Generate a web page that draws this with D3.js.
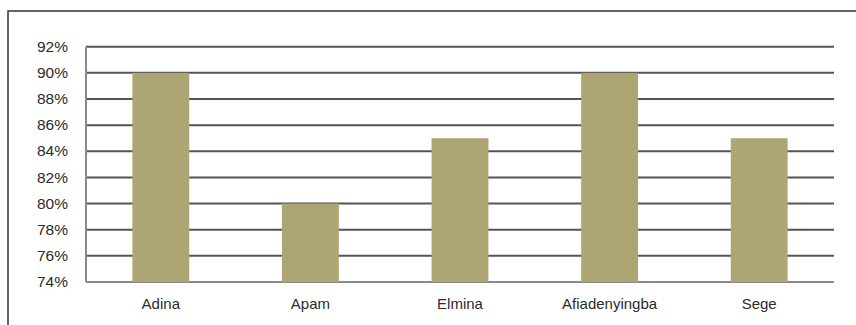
<!DOCTYPE html>
<html lang="en">
<head>
    <meta charset="UTF-8">
    <script src="https://d3js.org/d3.v7.min.js"></script>
    <style>
        body{ margin:0; background:#fff; }
        text{ font-family:"Liberation Sans", Arial, sans-serif; }
    </style>
    <title>Chart</title>
</head>
<body>
    <div class="canvas"></div>
</body>
<script>
    // data
    const towns = ['Adina','Apam','Elmina','Afiadenyingba','Sege'];
    const shares = [90, 80, 85, 90, 85];
    const yTicks = [74, 76, 78, 80, 82, 84, 86, 88, 90, 92];

    const width = 856;
    const height = 325;
    const [mt, mr, mb, ml] = [46.7, 22, 43, 86];
    const graphWidth = width - ml - mr;
    const graphHeight = 282 - mt;

    const svg = d3.select('.canvas')
                    .append('svg')
                    .attr('width', width)
                    .attr('height', height);

    // outer frame, runs off the right and bottom
    svg.append('rect')
        .attr('x', 8).attr('y', 11)
        .attr('width', width + 20).attr('height', height + 20)
        .attr('fill', 'none')
        .attr('stroke', '#333')
        .attr('stroke-width', 1.5);

    const graph = svg.append('g')
                    .attr('transform', `translate(${ml},${mt})`);

    const x = d3.scaleBand()
                .domain(towns)
                .range([0, graphWidth])
                .paddingInner(0.62)
                .paddingOuter(0.31);
    const y = d3.scaleLinear()
                .domain([74, 92])
                .range([graphHeight, 0]);

    // gridlines
    graph.selectAll('line.grid')
        .data(yTicks)
        .enter()
        .append('line')
        .attr('class', 'grid')
        .attr('x1', 0).attr('x2', graphWidth)
        .attr('y1', d => y(d)).attr('y2', d => y(d))
        .attr('stroke', d => d === 74 ? '#8a8a8a' : '#555')
        .attr('stroke-width', 2);

    graph.append('line')
        .attr('x1', 0).attr('x2', 0)
        .attr('y1', 0).attr('y2', graphHeight)
        .attr('stroke', '#8a8a8a')
        .attr('stroke-width', 2);

    graph.selectAll('rect.bar')
        .data(shares)
        .enter()
        .append('rect')
        .attr('class', 'bar')
        .attr('x', (d, i) => x(towns[i]))
        .attr('y', d => y(d))
        .attr('width', x.bandwidth())
        .attr('height', d => graphHeight - y(d))
        .attr('fill', '#aea574');

    // y labels
    const yAxis = d3.axisLeft(y)
                    .tickValues(yTicks)
                    .tickSize(0)
                    .tickPadding(18)
                    .tickFormat(d => d + '%');
    const yAxisG = graph.append('g').call(yAxis);
    yAxisG.select('.domain').remove();
    yAxisG.selectAll('text')
        .attr('fill', '#2b2b2b')
        .style('font-size', '15.5px')
        .attr('dy', '0.3em');

    // x labels
    const xAxis = d3.axisBottom(x).tickSize(0).tickPadding(16);
    const xAxisG = graph.append('g')
                        .attr('transform', `translate(0,${graphHeight})`)
                        .call(xAxis);
    xAxisG.select('.domain').remove();
    xAxisG.selectAll('text')
        .attr('fill', '#2b2b2b')
        .style('font-size', '15px');
</script>
</html>
